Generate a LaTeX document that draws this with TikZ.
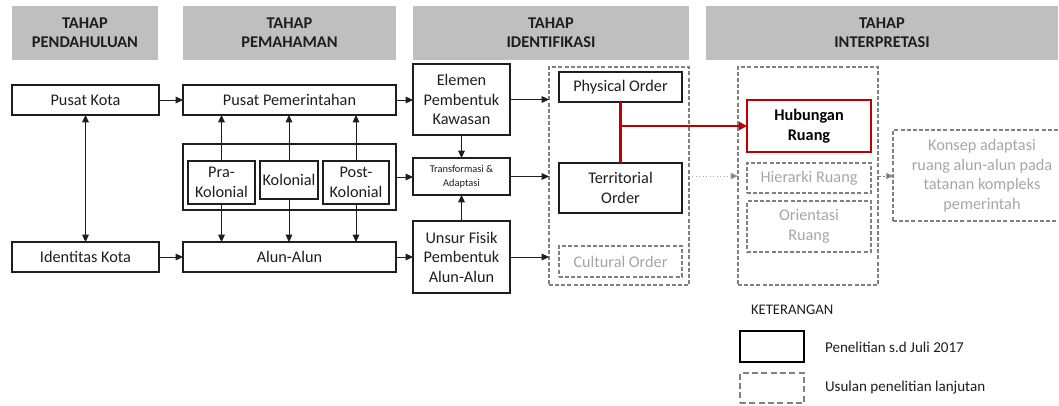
\documentclass[tikz,border=0pt]{standalone}
\usepackage{fontspec}
\setmainfont{Carlito}
\usetikzlibrary{arrows.meta}
\definecolor{hdr}{RGB}{191,191,191}
\definecolor{dgray}{RGB}{128,128,128}
\definecolor{tgray}{RGB}{166,166,166}
\definecolor{lred}{RGB}{192,0,0}
\definecolor{ink}{RGB}{30,30,30}
\newcommand\bx[7]{\node[#6, minimum width={(#4-#2)*0.75pt}, minimum height={(#5-#3)*0.75pt}] (#1) at ({(#2+#4)/2},{(#3+#5)/2}) {#7};}
\tikzset{
  base/.style={inner sep=0pt, outer sep=0pt, align=center, font=\fontsize{12.2}{14.6}\selectfont, text=ink},
  hdrbox/.style={base, fill=hdr, font=\bfseries\fontsize{12.3}{14.4}\selectfont},
  box/.style={base, draw=ink, line width=0.8pt},
  dbox/.style={base, draw=dgray, line width=1.1pt, dash pattern=on 3pt off 1.6pt, text=tgray},
  grpbox/.style={base, draw=dgray, line width=1.1pt, dash pattern=on 3pt off 1.6pt},
  redbox/.style={base, draw=lred, line width=2pt, font=\bfseries\fontsize{12.2}{14.6}\selectfont, text=black},
  legtext/.style={base, anchor=west, font=\fontsize{11.3}{13}\selectfont},
  arr/.style={draw=ink, line width=0.7pt, -{Triangle[length=5.5pt,width=5pt]}},
  darr/.style={draw=ink, line width=0.7pt, {Triangle[length=5.5pt,width=5pt]}-{Triangle[length=5.5pt,width=5pt]}},
  redline/.style={draw=lred, line width=2pt},
  redarr/.style={draw=lred, line width=2pt, -{Triangle[length=6pt,width=6pt]}},
  dotarr/.style={draw=tgray, line width=0.6pt, dotted, -{Triangle[length=5.5pt,width=5pt,fill=dgray]}},
  dasharr/.style={draw=dgray, line width=0.7pt, dash pattern=on 2pt off 1.5pt, -{Triangle[length=5pt,width=4.5pt,fill=dgray]}},
}
\begin{document}
\begin{tikzpicture}[x=0.75pt,y=-0.75pt]
\useasboundingbox (0,0) rectangle (1059,405);
\clip (0,0) rectangle (1059,405);
% headers
\bx{h1}{12}{6}{158}{60}{hdrbox}{TAHAP\\PENDAHULUAN}
\bx{h2}{183}{6}{396}{60}{hdrbox}{TAHAP\\PEMAHAMAN}
\bx{h3}{413}{6}{689}{60}{hdrbox}{TAHAP\\IDENTIFIKASI}
\bx{h4}{706}{6}{1058}{60}{hdrbox}{TAHAP\\INTERPRETASI}
% pendahuluan & pemahaman
\bx{pk}{12}{85}{159}{115}{box}{Pusat Kota}
\bx{pp}{183}{85}{396}{115}{box}{Pusat Pemerintahan}
\bx{grp}{183}{144}{396}{210}{box}{}
\bx{pra}{188}{161}{255}{204}{box}{Pra-\\Kolonial}
\bx{kol}{260}{161}{318}{199}{box}{Kolonial}
\bx{post}{323}{161}{389}{204}{box}{Post-\\Kolonial}
\bx{ik}{12}{242}{159}{272}{box}{Identitas Kota}
\bx{aa}{183}{242}{396}{272}{box}{Alun-Alun}
% identifikasi
\bx{ep}{413}{64}{510}{135}{box}{Elemen\\Pembentuk\\Kawasan}
\bx{tr}{413}{158}{510}{195}{box, font=\fontsize{7.8}{10.5}\selectfont}{Transformasi \&\\Adaptasi}
\bx{uf}{413}{221}{510}{293}{box}{Unsur Fisik\\Pembentuk\\Alun-Alun}
\bx{idg}{549}{67}{689}{285}{grpbox}{}
\bx{po}{559}{72}{682}{102}{box}{Physical Order}
\bx{to}{559}{163}{682}{213}{box}{Territorial\\Order}
\bx{co}{559}{246}{682}{277}{dbox}{Cultural Order}
% interpretasi
\bx{ig}{738}{67}{878}{285}{grpbox}{}
\bx{hr}{747}{100}{871}{152}{redbox}{Hubungan\\Ruang}
\bx{hi}{747}{163}{871}{193}{dbox}{Hierarki Ruang}
\bx{or}{747}{201}{871}{252}{dbox}{Orientasi\\Ruang}
\bx{ko}{893}{130}{1071}{221}{dbox}{Konsep adaptasi\\ruang alun-alun pada\\tatanan kompleks\\pemerintah}
% legend
\node[legtext, font=\fontsize{11}{13}\selectfont] (ket) at (751,310) {KETERANGAN};
\bx{lg1}{740}{331}{804}{362}{base, draw=black, line width=2pt}{}
\bx{lg2}{740}{373}{804}{403}{base, draw=dgray, line width=2pt, dash pattern=on 4.5pt off 2.5pt}{}
\node[legtext] (lt1) at (825,347) {Penelitian s.d Juli 2017};
\node[legtext] (lt2) at (825,388) {Usulan penelitian lanjutan};
% arrows
\draw[arr] (pk) -- (pp);
\draw[arr] (ik) -- (aa);
\draw[darr] (pk.south) -- (ik.north);
\draw[arr] (pra.north) -- (pra.north |- pp.south);
\draw[arr] (kol.north) -- (kol.north |- pp.south);
\draw[arr] (post.north) -- (post.north |- pp.south);
\draw[arr] (pra.south) -- (pra.south |- aa.north);
\draw[arr] (kol.south) -- (kol.south |- aa.north);
\draw[arr] (post.south) -- (post.south |- aa.north);
\draw[arr] (grp.east) -- (grp.east -| tr.west);
\draw[arr] (pp.east) -- (pp.east -| ep.west);
\draw[arr] (aa.east) -- (aa.east -| uf.west);
\draw[arr] (ep.south) -- (tr.north);
\draw[arr] (uf.north) -- (tr.south);
\draw[arr] (ep.east) -- (ep.east -| idg.west);
\draw[arr] (tr.east) -- (tr.east -| idg.west);
\draw[arr] (uf.east) -- (uf.east -| idg.west);
\draw[redline] (po.south) -- (to.north);
\draw[redarr] (po.south |- hr.west) -- (hr.west);
\draw[dotarr] (idg.east) -- (idg.east -| ig.west);
\draw[dasharr] (ig.east) -- (ig.east -| ko.west);
\end{tikzpicture}
\end{document}
